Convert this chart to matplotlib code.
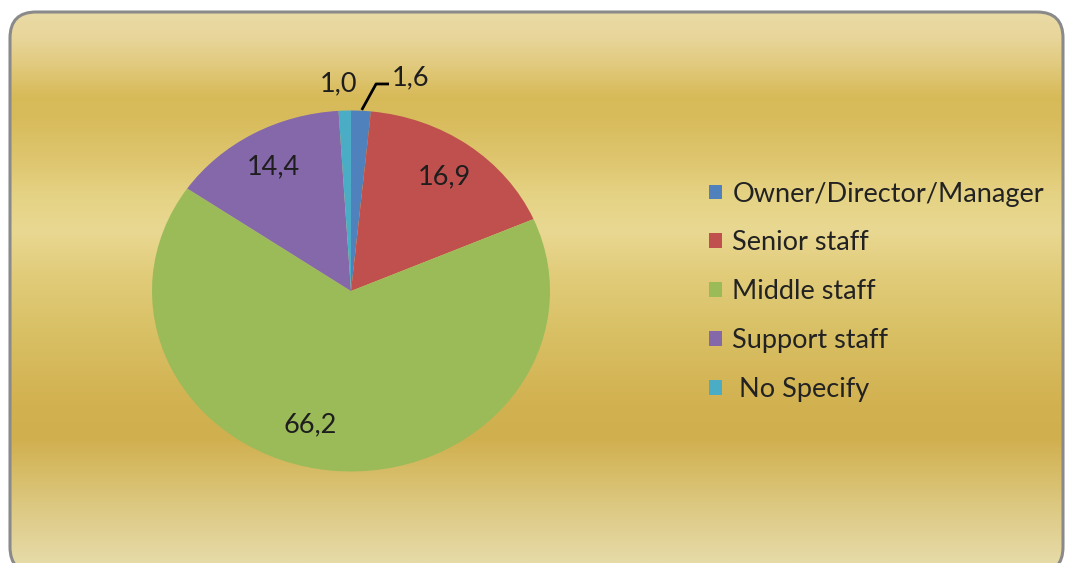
import numpy as np
import matplotlib
matplotlib.use("Agg")
import matplotlib.pyplot as plt
from matplotlib.patches import FancyBboxPatch
from matplotlib.colors import LinearSegmentedColormap

# Staff position breakdown (%)
positions = ["Owner/Director/Manager", "Senior staff", "Middle staff",
             "Support staff", " No Specify"]
shares = [1.6, 16.9, 66.2, 14.4, 1.0]
colors = ["#4F81BD", "#C0504D", "#9BBB59", "#8468AA", "#4BACC6"]

plt.rcParams["font.family"] = ["Lato", "DejaVu Sans"]

W, H = 1066, 563
fig = plt.figure(figsize=(W / 100, H / 100), dpi=100)

# gold band background inside a rounded frame (pixel coordinates, y up)
bg = fig.add_axes([0, 0, 1, 1])
bg.set_xlim(0, W)
bg.set_ylim(0, H)
bg.axis("off")

# colour stops listed from top to bottom
stops = [(0.00, "#EADCA8"), (0.06, "#E8D69C"), (0.11, "#E2CB80"),
         (0.17, "#D7BA58"), (0.21, "#D8BC5C"), (0.28, "#DEC56E"),
         (0.35, "#E5D385"), (0.41, "#E9D892"), (0.48, "#E2CD7C"),
         (0.59, "#D9C065"), (0.72, "#D2B150"), (0.78, "#D0AF4E"),
         (0.83, "#D6BA63"), (0.91, "#DDCA85"), (1.00, "#E6DAA6")]
gold = LinearSegmentedColormap.from_list("gold", stops)
grad = np.linspace(0, 1, 400).reshape(-1, 1)
img = bg.imshow(grad, cmap=gold, aspect="auto", extent=(0, W, 0, H),
                origin="upper", interpolation="bicubic")
frame = FancyBboxPatch((10, -10), 1053, H - 12 + 10,
                       boxstyle="round,pad=0,rounding_size=26",
                       facecolor="none", edgecolor="#8A8A8A", linewidth=2.2,
                       transform=bg.transData, clip_on=False)
bg.add_patch(frame)
img.set_clip_path(frame)

# pie, slightly stretched horizontally
ax = fig.add_axes([152 / W, 1 - 471.5 / H, 398 / W, 361 / H])
wedges, _ = ax.pie(shares, colors=colors, startangle=90, counterclock=False,
                   wedgeprops=dict(linewidth=0))
ax.set_aspect("auto")
ax.set_xlim(-1, 1)
ax.set_ylim(-1, 1)
ax.axis("off")

# value labels (decimal comma)
label_pos = [(0.30, 1.183), (0.467, 0.632), (-0.206, -0.740),
             (-0.392, 0.687), (-0.065, 1.150)]
for val, (x, y) in zip(shares, label_pos):
    ax.text(x, y, f"{val:.1f}".replace(".", ","), ha="center", va="center",
            fontsize=19.5, color="#1E1E1E", clip_on=False)

# leader line for the small blue slice
ax.plot([0.054, 0.126, 0.191], [1.003, 1.147, 1.147], color="black",
        linewidth=2, clip_on=False, solid_capstyle="butt")

fig.legend(wedges, positions, loc="upper left",
           bbox_to_anchor=(695 / W, 1 - 168 / H), frameon=False,
           fontsize=19.5, handlelength=0.48, handleheight=0.45,
           handletextpad=0.4, labelspacing=0.88, borderpad=0,
           labelcolor="#222222")

fig.savefig("out.png", dpi=100, facecolor="white")
